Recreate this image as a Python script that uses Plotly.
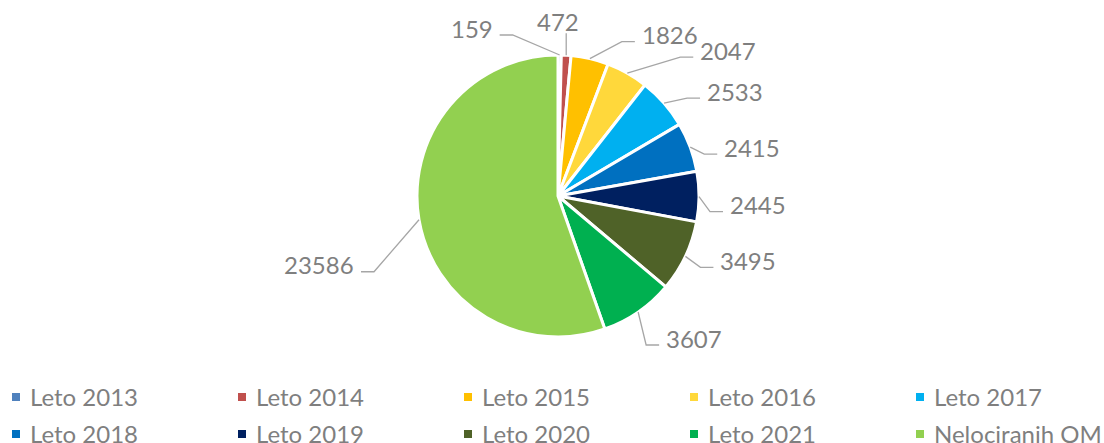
import math
import plotly.graph_objects as go

labels = ["Leto 2013", "Leto 2014", "Leto 2015", "Leto 2016", "Leto 2017",
          "Leto 2018", "Leto 2019", "Leto 2020", "Leto 2021", "Nelociranih OM"]
values = [159, 472, 1826, 2047, 2533, 2415, 2445, 3495, 3607, 23586]
colors = ["#4f81bd", "#c0504d", "#ffc000", "#ffd83b", "#00b0f0",
          "#0070c0", "#002060", "#4f6228", "#00b050", "#92d050"]

W, H = 1104, 443
cx, cy, r = 558, 196, 141
FONT = "Lato, 'Open Sans', sans-serif"
TXT = "#7f7f7f"
LINE = "#a6a6a6"

# leader line end, relative to slice edge (px), and which side the text sits on
leader = [(-60, -20, "right"), (0, -22, "top"), (45, -17, "left"), (66, -16, "left"),
          (36, -5, "left"), (27, 7, "left"), (24, 15, "left"), (28, 11, "left"),
          (21, 33, "left"), (-58, 52, "right")]


def px(x):
    return x / W


def py(y):
    return 1 - y / H


fig = go.Figure(go.Pie(
    labels=labels,
    values=values,
    sort=False,
    direction="clockwise",
    rotation=0,
    marker=dict(colors=colors, line=dict(color="white", width=3)),
    textinfo="none",
    domain=dict(x=[px(cx - r), px(cx + r)], y=[py(cy + r), py(cy - r)]),
    hoverinfo="label+value",
    showlegend=False,
))

# data labels with elbow leader lines
total = sum(values)
cum = 0
for v, (dx, dy, side) in zip(values, leader):
    ang = 2 * math.pi * (cum + v / 2) / total
    cum += v
    ex, ey = cx + r * math.sin(ang), cy - r * math.cos(ang)
    end_x, end_y = ex + dx, ey + dy
    if side == "top":
        path = f"M {px(ex)} {py(ey)} L {px(end_x)} {py(end_y)}"
        fig.add_annotation(x=px(end_x - 8), y=py(end_y - 12), text=str(v),
                           xanchor="center", yanchor="middle")
    else:
        s = 1 if side == "left" else -1
        elb_x = end_x - s * 13
        path = f"M {px(ex)} {py(ey)} L {px(elb_x)} {py(end_y)} L {px(end_x)} {py(end_y)}"
        fig.add_annotation(x=px(end_x + s * 5), y=py(end_y - 7), text=str(v),
                           xanchor=side, yanchor="middle")
    fig.add_shape(type="path", path=path, xref="paper", yref="paper",
                  line=dict(color=LINE, width=1.3))

# legend: 2 rows x 5 columns (second row runs off the bottom edge, as in the source)
for i, (lab, col) in enumerate(zip(labels, colors)):
    c, rw = i % 5, i // 5
    x0 = 12 + 226 * c
    yc = 396 + 37 * rw
    fig.add_shape(type="rect", xref="paper", yref="paper",
                  x0=px(x0), x1=px(x0 + 8), y0=py(yc + 5), y1=py(yc - 3),
                  fillcolor=col, line=dict(width=0))
    fig.add_annotation(x=px(x0 + 16), y=py(yc), text=lab,
                       xanchor="left", yanchor="middle")

fig.update_annotations(showarrow=False, xref="paper", yref="paper",
                       font=dict(family=FONT, size=24, color=TXT))

fig.update_layout(
    width=W, height=H,
    margin=dict(l=0, r=0, t=0, b=0),
    paper_bgcolor="white",
    plot_bgcolor="white",
    font=dict(family=FONT, color=TXT),
    showlegend=False,
)

# drop the default 8px page margin so the figure fills the window
fig.write_html("out.html", config={"displayModeBar": False},
               post_script="document.body.style.margin='0';")
